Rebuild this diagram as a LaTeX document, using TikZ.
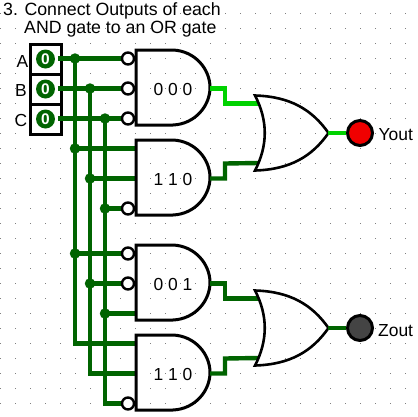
\documentclass[tikz,border=0pt]{standalone}
\usepackage{fontspec}
\setmainfont{Liberation Sans}
\definecolor{wiredark}{HTML}{006400}
\definecolor{wirelit}{HTML}{00D200}
\definecolor{griddot}{HTML}{808080}
\definecolor{ledred}{HTML}{F00000}
\definecolor{leddark}{HTML}{444444}
\tikzset{
  x=1bp,y=-1bp,
  wire/.style={draw=wiredark,line width=4.4bp,line cap=butt,line join=miter},
  litwire/.style={wire,draw=wirelit},
  gateline/.style={draw=black,line width=3bp,line join=miter,fill=none},
  orline/.style={draw=black,line width=2.6bp,line join=miter,fill=none},
  junction/.style={circle,fill=wiredark,draw=none,minimum size=10.5bp,inner sep=0pt},
  bubble/.style={circle,draw=black,line width=2.4bp,fill=white,minimum size=12bp,inner sep=0pt},
  lamp/.style={circle,draw=black,line width=3bp,minimum size=25bp,inner sep=0pt},
  switchcell/.style={rectangle,draw=black,line width=3bp,fill=white,minimum width=30bp,minimum height=30bp,inner sep=0pt},
  switchknob/.style={circle,fill=wiredark,draw=none,minimum size=19bp,inner sep=0pt,text=white,font=\fontsize{15.5}{15.5}\selectfont\bfseries},
  lbl/.style={inner sep=0pt,font=\fontsize{17.5}{17.5}\selectfont},
  gatelbl/.style={inner sep=0pt,font=\fontsize{17.5}{17.5}\selectfont},
  titletext/.style={inner sep=0pt,anchor=base west,font=\fontsize{17.8}{18}\selectfont},
}
\begin{document}
\begin{tikzpicture}
\useasboundingbox (0,0) rectangle (418,417);
\fill[white] (0,0) rectangle (418,417);
% grid
\foreach \gy in {13,28,...,403}{
  \foreach \gx in {0,15,...,405}{
    \fill[griddot] (\gx,\gy) rectangle ++(1,1);
  }
}
% title
\node[titletext] (t1) at (3,15) {3. Connect Outputs of each};
\node[titletext] (t2) at (24,33) {AND gate to an OR gate};

% switches
\node[switchcell] (swA) at (46,59) {};
\node[switchcell] (swB) at (46,89) {};
\node[switchcell] (swC) at (46,119) {};
\node[switchknob] (kA) at (45.5,59) {0};
\node[switchknob] (kB) at (45.5,89) {0};
\node[switchknob] (kC) at (45.5,119) {0};
\node[lbl] (la) at (22.5,61) {A};
\node[lbl] (lb) at (21,90) {B};
\node[lbl] (lc) at (21,120) {C};

% coordinates
\coordinate (oA) at (58,58.5);
\coordinate (oB) at (58,88.5);
\coordinate (oC) at (58,118.5);
\foreach \n/\yy in {a/58.5,b/88.5,c/118.5,d/148.5,e/178.5,f/208.5,g/253.5,h/283.5,i/313.5,j/343.5,k/373.5,l/403.5}{
  \coordinate (pin\n) at (136,\yy);
}
\coordinate (ja1c) at (75,58.5);
\coordinate (jb1c) at (90,88.5);
\coordinate (jc1c) at (105,118.5);

% input wires
\draw[wire] (oA) -- (pina);
\draw[wire] (oB) -- (pinb);
\draw[wire] (oC) -- (pinc);
\draw[wire] (ja1c) -- (75,343.5) -- (pinj);
\draw[wire] (jb1c) -- (90,373.5) -- (pink);
\draw[wire] (jc1c) -- (105,403.5) -- (pinl);

% junctions
\node[junction] (ja1) at (75,58.5) {};
\node[junction] (jb1) at (90,88.5) {};
\node[junction] (jc1) at (105,118.5) {};
\node[junction] (ja2) at (75,148.5) {};
\node[junction] (jb2) at (90,178.5) {};
\node[junction] (jc2) at (105,208.5) {};
\node[junction] (ja3) at (75,253.5) {};
\node[junction] (jb3) at (90,283.5) {};
\node[junction] (jc3) at (105,313.5) {};

\draw[wire] (ja2.center) -- (pind);
\draw[wire] (jb2.center) -- (pine);
\draw[wire] (jc2.center) -- (pinf);
\draw[wire] (ja3.center) -- (ping);
\draw[wire] (jb3.center) -- (pinh);
\draw[wire] (jc3.center) -- (pini);

% AND gates
\foreach \nm/\top/\txt in {g1/50/0 0 0,g2/140/1 1 0,g3/245/0 0 1,g4/335/1 1 0}{
  \path[gateline] (136,\top) -- (173,\top)
     .. controls (195,\top+1) and (210,\top+19) .. (210,\top+37.5)
     .. controls (210,\top+56) and (195,\top+74) .. (173,\top+75)
     -- (136,\top+75) -- cycle;
  \node[gatelbl] (\nm) at (173,\top+39.5) {\txt};
  \coordinate (\nm out) at (210,\top+38.5);
}

% bubbles
\foreach \n/\yy in {a/58.5,b/88.5,c/118.5,f/208.5,g/253.5,h/283.5,l/403.5}{
  \node[bubble] (bub\n) at (128,\yy) {};
}

% OR gates
\foreach \nm/\top in {or1/95.5,or2/290.5}{
  \coordinate (\nm a) at (258,\top+8);
  \coordinate (\nm b) at (258,\top+67.5);
  \coordinate (\nm out) at (328,\top+37.5);
}
% gate output wires
\draw[litwire] (g1out) -- (225,88.5) -- (225,103.5) -- (or1a);
\draw[wire] (g2out) -- (225,178.5) -- (225,163.5) -- (or1b);
\draw[wire] (g3out) -- (225,283.5) -- (225,298.5) -- (or2a);
\draw[wire] (g4out) -- (225,373.5) -- (225,358.5) -- (or2b);
\foreach \top in {95.5,290.5}{
  \path[orline] (255,\top) .. controls (290,\top+1) and (312,\top+14) .. (328.5,\top+37.5)
     .. controls (312,\top+61) and (290,\top+74) .. (255,\top+75)
     .. controls (268,\top+50) and (268,\top+25) .. (255,\top) -- cycle;
}
% lamps
\node[lamp,fill=ledred] (yout) at (360,133) {};
\node[lamp,fill=leddark] (zout) at (360,328) {};
\draw[litwire] (or1out) -- (yout.west);
\draw[wire] (or2out) -- (zout.west);
\node[lbl,anchor=west] (ly) at (378.5,135) {Yout};
\node[lbl,anchor=west] (lz) at (378,331) {Zout};
\end{tikzpicture}
\end{document}
